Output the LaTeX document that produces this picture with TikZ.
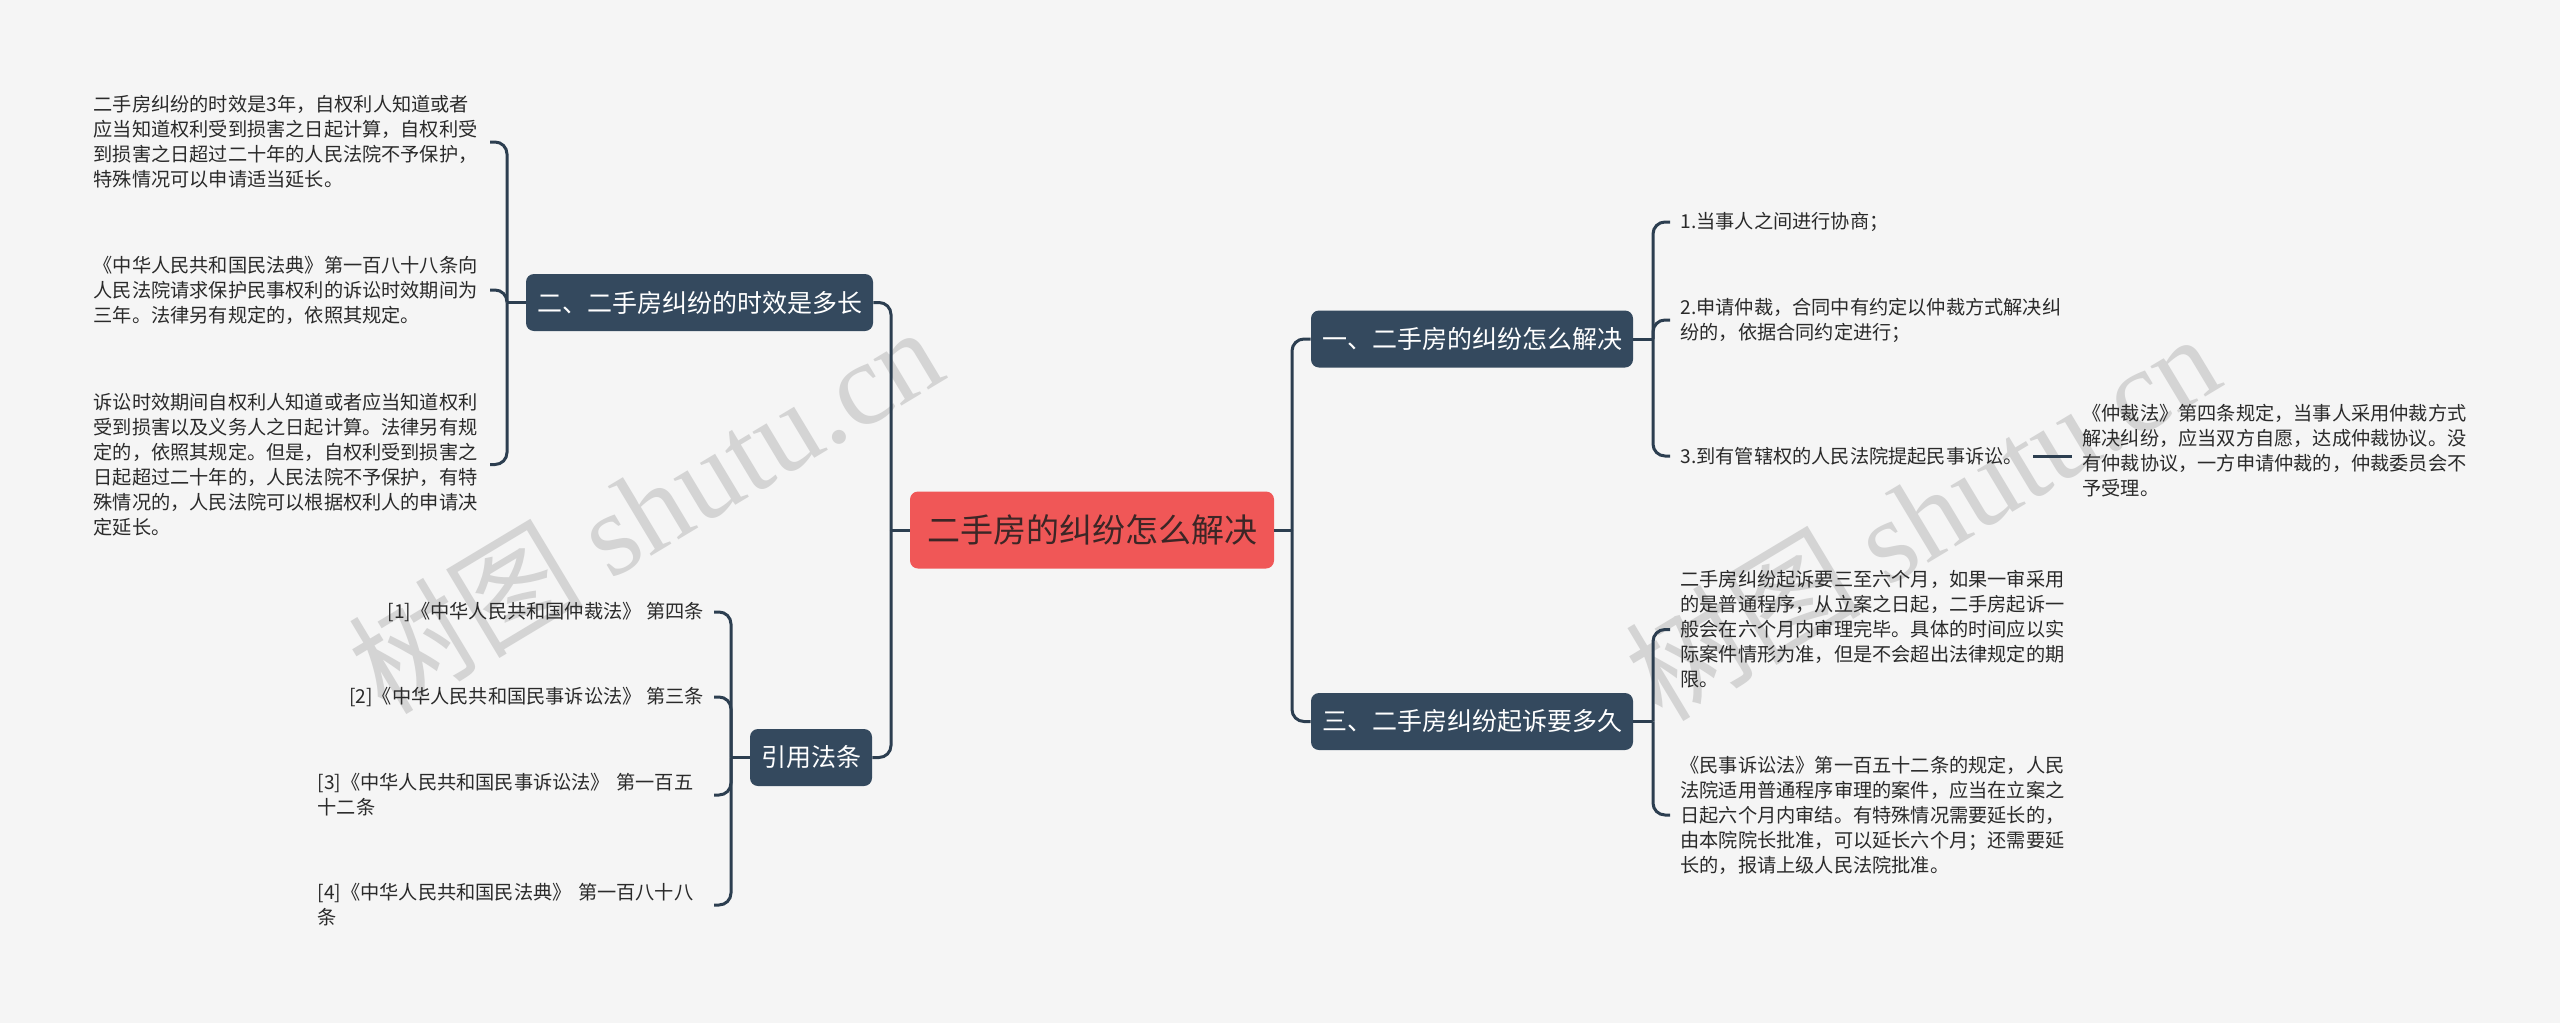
\documentclass[tikz,border=0pt]{standalone}
\usepackage{fontspec}
\setmainfont{Noto Sans CJK SC}
\newfontfamily\wmfont{Liberation Serif}

\definecolor{bgcol}{HTML}{F5F5F5}
\definecolor{rootcol}{HTML}{F05757}
\definecolor{roottext}{HTML}{3C2626}
\definecolor{topiccol}{HTML}{34495E}
\definecolor{linecol}{HTML}{2C3E50}
\definecolor{leaftext}{HTML}{2A2A2A}
\definecolor{wmcol}{HTML}{D4D4D4}

\begin{document}
\begin{tikzpicture}[x=0.5pt, y=-0.5pt,
  root/.style={fill=rootcol, text=roottext, rounded corners=4pt, inner xsep=8.5pt,
    minimum height=38.5pt, font=\fontsize{16.5}{20}\selectfont},
  topic/.style={fill=topiccol, text=white, rounded corners=4pt, inner xsep=5.5pt,
    minimum height=28.5pt, font=\fontsize{12.5}{15}\selectfont},
  leaf/.style={text=leaftext, inner xsep=5pt, inner ysep=0pt, align=left,
    font=\fontsize{9.6}{12.5}\selectfont},
  wide/.style={text width=193pt},
  link/.style={draw=linecol, line width=1.5pt, rounded corners=6pt},
  wm/.style={text=wmcol, rotate=31, font=\fontsize{59}{64}\selectfont}
]

% Background
\fill[bgcol] (0,0) rectangle (2560,1023);

% Watermarks
\node[wm] (wmA) at (645,508) {树图 {\wmfont shutu.cn}};
\node[wm] (wmB) at (1922,515) {树图 {\wmfont shutu.cn}};

% Root
\node[root] (root) at (1092,530) {二手房的纠纷怎么解决};

% Topics
\node[topic] (t1) at (1472,339) {一、二手房的纠纷怎么解决};
\node[topic] (t2) at (699.5,302.5) {二、二手房纠纷的时效是多长};
\node[topic] (t3) at (1472,721.5) {三、二手房纠纷起诉要多久};
\node[topic] (law) at (811,757.5) {引用法条};

% Junctions
\coordinate (jl) at (891,530);
\coordinate (jr) at (1292,530);
\coordinate (j1) at (1653,339);
\coordinate (j2) at (507,302.5);
\coordinate (j3) at (1653,721.5);
\coordinate (jlaw) at (731,757.5);

% Leaves of topic 1
\node[leaf, wide, anchor=west] (b1) at (1670,222) {1.当事人之间进行协商；};
\node[leaf, wide, anchor=west] (b2) at (1670,320)
  {2.申请仲裁，合同中有约定以仲裁方式解决纠\\纷的，依据合同约定进行；};
\node[leaf, anchor=west] (b3) at (1670,456) {3.到有管辖权的人民法院提起民事诉讼。};
\node[leaf, wide, anchor=west] (b31) at (2072,451)
  {《仲裁法》第四条规定，当事人采用仲裁方式\\解决纠纷，应当双方自愿，达成仲裁协议。没\\有仲裁协议，一方申请仲裁的，仲裁委员会不\\予受理。};

% Leaves of topic 2
\node[leaf, wide, anchor=east] (a1) at (490,142)
  {二手房纠纷的时效是3年，自权利人知道或者\\应当知道权利受到损害之日起计算，自权利受\\到损害之日超过二十年的人民法院不予保护，\\特殊情况可以申请适当延长。};
\node[leaf, wide, anchor=east] (a2) at (490,290)
  {《中华人民共和国民法典》第一百八十八条向\\人民法院请求保护民事权利的诉讼时效期间为\\三年。法律另有规定的，依照其规定。};
\node[leaf, wide, anchor=east] (a3) at (490,464.5)
  {诉讼时效期间自权利人知道或者应当知道权利\\受到损害以及义务人之日起计算。法律另有规\\定的，依照其规定。但是，自权利受到损害之\\日起超过二十年的，人民法院不予保护，有特\\殊情况的，人民法院可以根据权利人的申请决\\定延长。};

% Leaves of topic 3
\node[leaf, wide, anchor=west] (c1) at (1670,629.5)
  {二手房纠纷起诉要三至六个月，如果一审采用\\的是普通程序，从立案之日起，二手房起诉一\\般会在六个月内审理完毕。具体的时间应以实\\际案件情形为准，但是不会超出法律规定的期\\限。};
\node[leaf, wide, anchor=west] (c2) at (1670,815)
  {《民事诉讼法》第一百五十二条的规定，人民\\法院适用普通程序审理的案件，应当在立案之\\日起六个月内审结。有特殊情况需要延长的，\\由本院院长批准，可以延长六个月；还需要延\\长的，报请上级人民法院批准。};

% Cited laws
\node[leaf, anchor=east] (l1) at (714,612) {[1]《中华人民共和国仲裁法》 第四条};
\node[leaf, anchor=east] (l2) at (714,697) {[2]《中华人民共和国民事诉讼法》 第三条};
\node[leaf, wide, anchor=east] (l3) at (714,795) {[3]《中华人民共和国民事诉讼法》 第一百五\\十二条};
\node[leaf, wide, anchor=east] (l4) at (714,905) {[4]《中华人民共和国民法典》 第一百八十八\\条};

% Root to topics
\draw[link] (root.west) -- (jl);
\draw[link] (jl) |- (t2.east);
\draw[link] (jl) |- (law.east);
\draw[link] (root.east) -- (jr);
\draw[link] (jr) |- (t1.west);
\draw[link] (jr) |- (t3.west);

% Topic 1
\draw[link] (t1.east) -- (j1);
\foreach \n in {b1,b2,b3}
  \draw[link] (j1) |- (\n.west);
\draw[link] (b3.east) -- (b3.east -| b31.west);

% Topic 2
\draw[link] (t2.west) -- (j2);
\foreach \n in {a1,a2,a3}
  \draw[link] (j2) |- (\n.east);

% Topic 3
\draw[link] (t3.east) -- (j3);
\foreach \n in {c1,c2}
  \draw[link] (j3) |- (\n.west);

% Laws
\draw[link] (law.west) -- (jlaw);
\foreach \n in {l1,l2,l3,l4}
  \draw[link] (jlaw) |- (\n.east);

\end{tikzpicture}
\end{document}
